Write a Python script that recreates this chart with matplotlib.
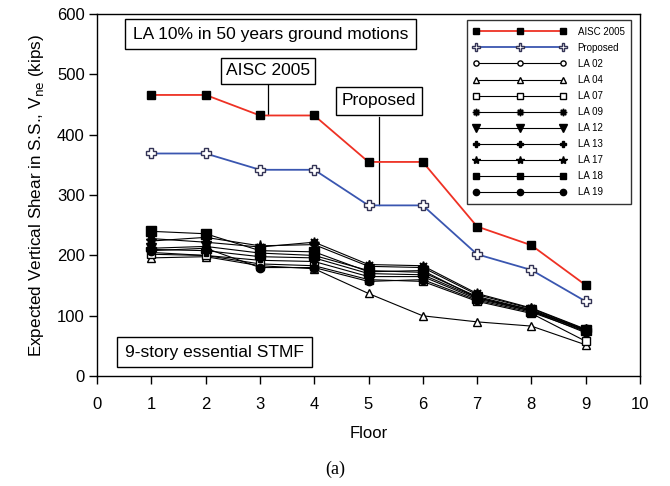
import matplotlib
matplotlib.use("Agg")
import matplotlib.pyplot as plt
import numpy as np

plt.rcParams['font.family'] = ['Liberation Sans', 'DejaVu Sans']

floors = [1, 2, 3, 4, 5, 6, 7, 8, 9]

aisc = [466, 466, 432, 432, 355, 355, 248, 217, 151]
proposed = [369, 369, 342, 342, 283, 283, 202, 176, 124]

la02 = [205, 200, 192, 190, 165, 165, 128, 108, 72]
la04 = [196, 198, 183, 178, 137, 100, 90, 83, 52]
la07 = [202, 200, 186, 183, 160, 157, 124, 104, 58]
la09 = [228, 222, 214, 222, 185, 183, 137, 113, 78]
la12 = [212, 215, 204, 200, 175, 172, 132, 110, 75]
la13 = [210, 208, 198, 196, 170, 168, 130, 110, 76]
la17 = [224, 230, 216, 218, 182, 180, 135, 112, 77]
la18 = [240, 236, 208, 206, 173, 175, 130, 108, 76]
la19 = [208, 212, 180, 180, 157, 160, 126, 106, 74]

records = [
    ("LA 02", la02, 'o', 'white', 5),
    ("LA 04", la04, '^', 'white', 6),
    ("LA 07", la07, 's', 'white', 5.5),
    ("LA 09", la09, (8, 1, 0), 'black', 7),
    ("LA 12", la12, 'v', 'black', 7),
    ("LA 13", la13, 'P', 'black', 6.5),
    ("LA 17", la17, '*', 'black', 8),
    ("LA 18", la18, 's', 'black', 6.5),
    ("LA 19", la19, 'o', 'black', 6),
]

fig = plt.figure(figsize=(6.7, 4.86), dpi=100)
ax = fig.add_axes([0.145, 0.226, 0.81, 0.745])

ax.plot(floors, aisc, color='#ee3124', lw=1.3, marker='s', ms=6,
        mfc='black', mec='black', label="AISC 2005", zorder=4)
ax.plot(floors, proposed, color='#3a56b0', lw=1.3, marker='P', ms=7,
        mfc='white', mec='#333355', mew=1.0, label="Proposed", zorder=4)
for name, vals, mk, fc, ms in records:
    ax.plot(floors, vals, color='black', lw=0.8, marker=mk, ms=ms,
            mfc=fc, mec='black', mew=1.0, label=name, zorder=3)

ax.set_xlim(0, 10)
ax.set_ylim(0, 600)
ax.set_xticks(range(0, 11))
ax.set_yticks(range(0, 601, 100))
ax.tick_params(direction='out', length=6, width=1, labelsize=12)
ax.tick_params(axis='x', pad=9)
ax.tick_params(axis='y', pad=3)
for s in ax.spines.values():
    s.set_linewidth(1.0)

ax.set_xlabel("Floor", fontsize=12, labelpad=10)
ax.set_ylabel("Expected Vertical Shear in S.S., V$_{\\rm ne}$ (kips)",
              fontsize=12.3, labelpad=8)

box = dict(boxstyle='square,pad=0.45', fc='white', ec='black', lw=1.0)
ax.text(3.19, 567, "LA 10% in 50 years ground motions", fontsize=12.5,
        ha='center', va='center', bbox=box)
ax.text(2.16, 40, "9-story essential STMF", fontsize=12.5,
        ha='center', va='center', bbox=box)

ax.plot([3.15, 3.15], [482, 432], color='black', lw=0.9, zorder=2)
ax.text(3.15, 506, "AISC 2005", fontsize=12.5, ha='center', va='center',
        bbox=dict(boxstyle='square,pad=0.3', fc='white', ec='black', lw=1.0))
ax.plot([5.19, 5.19], [430, 283], color='black', lw=0.9, zorder=2)
ax.text(5.19, 456, "Proposed", fontsize=12.5, ha='center', va='center',
        bbox=dict(boxstyle='square,pad=0.35', fc='white', ec='black', lw=1.0))

leg = ax.legend(loc='upper right', numpoints=3, fontsize=7, frameon=True,
                fancybox=False, edgecolor='black', handlelength=9.5,
                markerscale=0.75, borderpad=0.7, labelspacing=0.62,
                handletextpad=1.2, bbox_to_anchor=(0.993, 0.997))
leg.get_frame().set_linewidth(1.0)

fig.text(0.5, 0.035, "(a)", fontsize=13, ha='center', va='center',
         family='Liberation Serif')

fig.savefig("out.png", dpi=100)
